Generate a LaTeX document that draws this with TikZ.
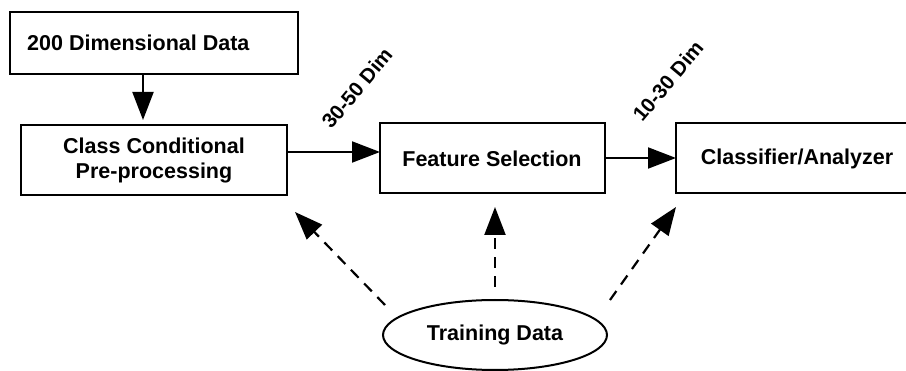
\documentclass[tikz,border=0pt]{standalone}
\usepackage{fontspec}
\setmainfont{Liberation Sans}
\usetikzlibrary{arrows.meta,shapes.geometric}
\begin{document}
\begin{tikzpicture}[x=1pt,y=-1pt,
  boxline/.style={draw=black,line width=2pt},
  txt/.style={font=\fontsize{21.5}{25}\selectfont\bfseries,inner sep=0pt},
  lbl/.style={font=\fontsize{20.5}{22}\selectfont\bfseries,inner sep=0pt,rotate=50},
  solidarrow/.style={line width=2pt,-{Triangle[length=28pt,width=21pt]}},
  dasharrow/.style={line width=2.2pt,dash pattern=on 11pt off 8pt,-{Triangle[length=28pt,width=21pt]}}]
\useasboundingbox (0,0) rectangle (906,371);
\clip (0,0) rectangle (906,371);
% boxes
\draw[boxline] (10,12) rectangle (298,74);
\node[txt,anchor=west] (a) at (27,43) {200 Dimensional Data};
\draw[boxline] (21,125) rectangle (287,195);
\node[txt,align=center] (b) at (154,160) {Class Conditional\\Pre-processing};
\draw[boxline] (380,123) rectangle (605,193);
\node[txt] (c) at (492,159) {Feature Selection};
\draw[boxline] (676,123) rectangle (915,193);
\node[txt] (d) at (797,159) {Classifier/Analyzer};
% named anchors on boxes
\coordinate (aS) at (143,74);
\coordinate (bN) at (143,120);
\coordinate (bE) at (287,152);
\coordinate (cW) at (380,152);
\coordinate (cE) at (605,158);
\coordinate (dW) at (676,158);
\draw[solidarrow] (aS) -- (bN);
\draw[solidarrow] (bE) -- (cW);
\draw[solidarrow] (cE) -- (dW);
% labels
\node[lbl] (l1) at (357,88) {30-50 Dim};
\node[lbl] (l2) at (668,81) {10-30 Dim};
% training data
\node[txt,draw=black,line width=2pt,ellipse,minimum width=224pt,minimum height=70pt] (t) at (495,335) {Training Data};
\coordinate (s1) at (385,305);
\coordinate (e1) at (295,212);
\coordinate (s2) at (495,287);
\coordinate (e2) at (495,207);
\coordinate (s3) at (610,300);
\coordinate (e3) at (676,207);
\draw[dasharrow] (s1) -- (e1);
\draw[dasharrow] (s2) -- (e2);
\draw[dasharrow] (s3) -- (e3);
\end{tikzpicture}
\end{document}
